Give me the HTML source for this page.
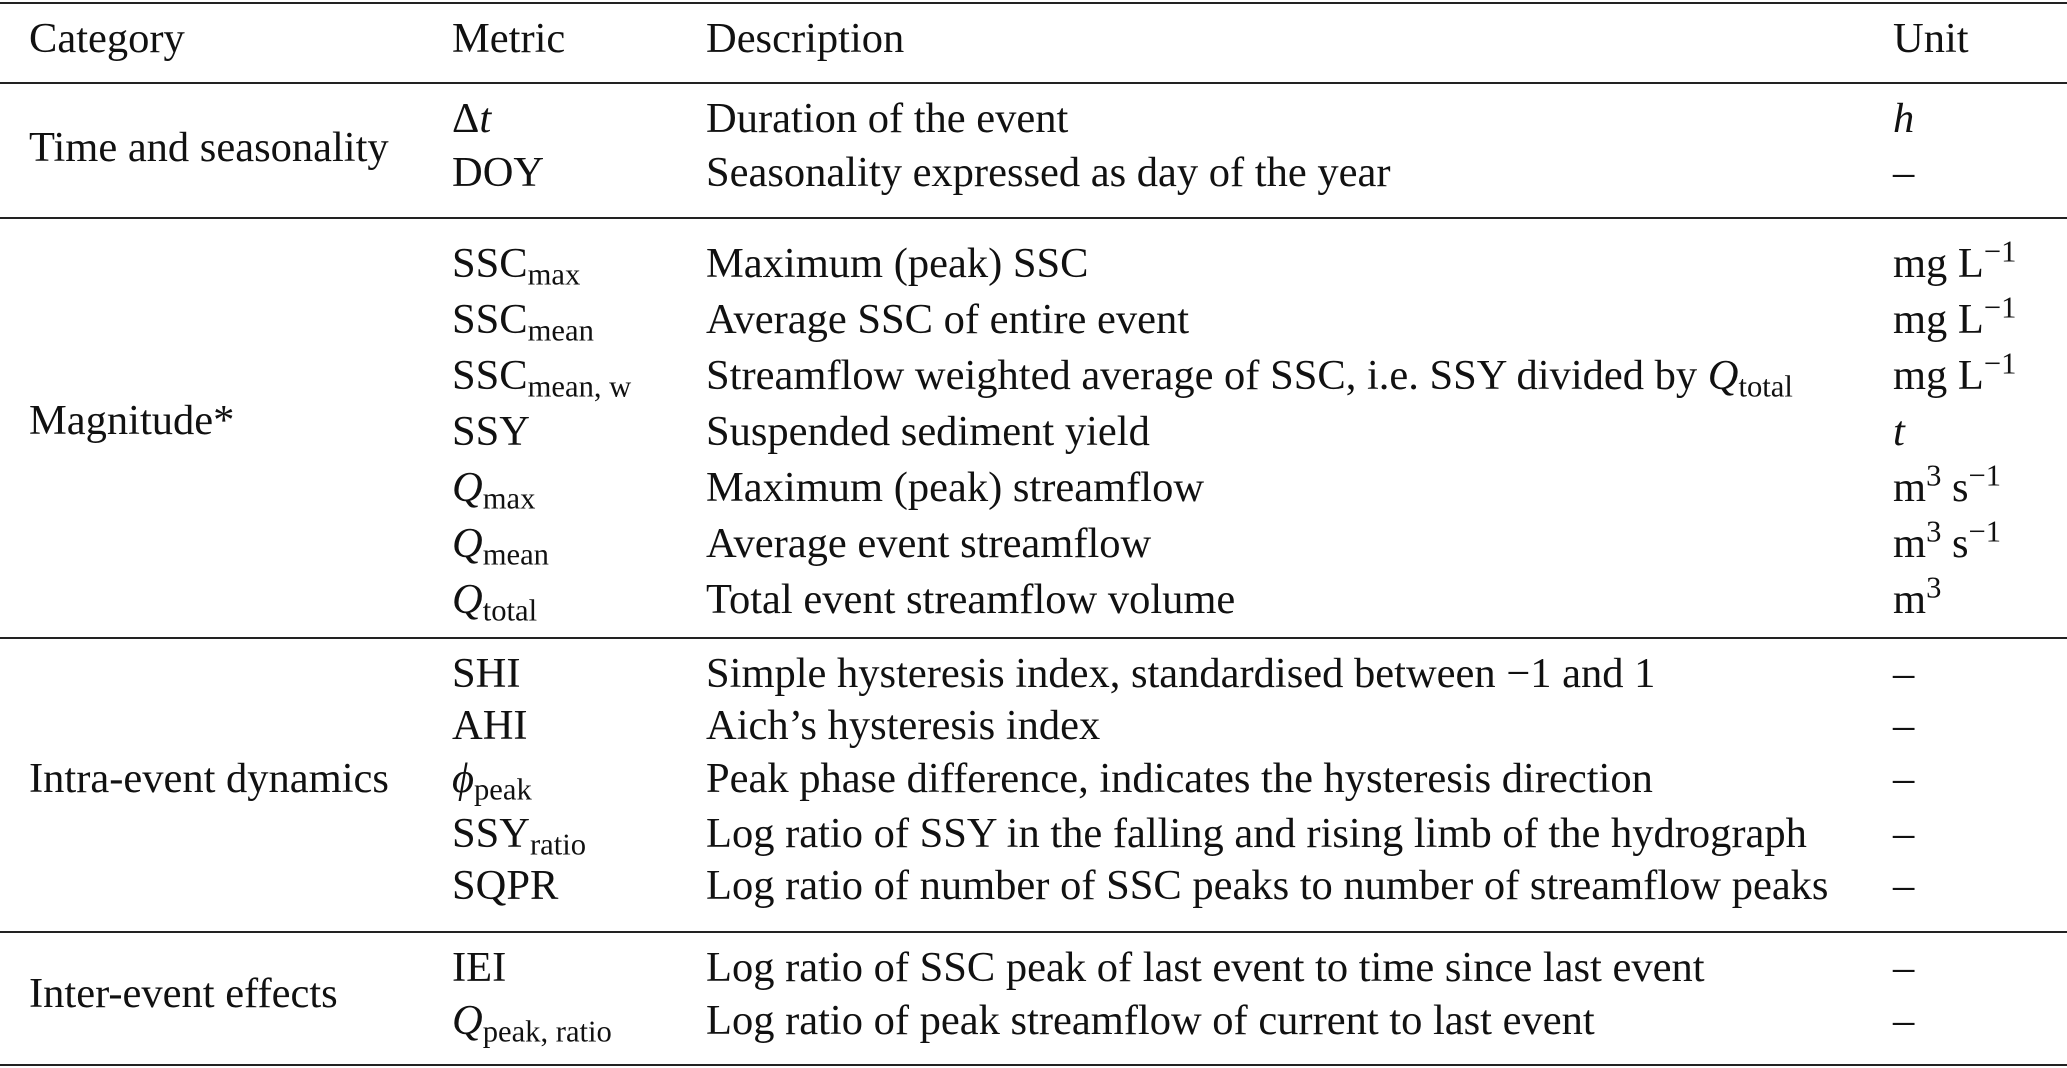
<!DOCTYPE html>
<html><head><meta charset="utf-8"><style>
body{margin:0;background:#fff;width:2067px;height:1068px;position:relative;overflow:hidden;font-family:"Liberation Serif",serif;color:#111;}
.r{position:absolute;left:0;width:2067px;height:2px;background:#222;}
.t{position:absolute;font-size:42.5px;line-height:50px;white-space:nowrap;}
i{font-style:italic;}
sub{font-size:0.72em;vertical-align:-0.25em;line-height:0;}
sup{font-size:0.72em;vertical-align:0.5em;line-height:0;}
</style></head><body>
<div class="r" style="top:2px"></div>
<div class="r" style="top:82px"></div>
<div class="r" style="top:217px"></div>
<div class="r" style="top:637px"></div>
<div class="r" style="top:931px"></div>
<div class="r" style="top:1064px"></div>

<div class="t" style="left:29px;top:14px">Category</div>
<div class="t" style="left:452px;top:14px">Metric</div>
<div class="t" style="left:706px;top:14px">Description</div>
<div class="t" style="left:1893px;top:14px">Unit</div>

<div class="t" style="left:29px;top:123px">Time and seasonality</div>
<div class="t" style="left:452px;top:94px">Δ<i>t</i></div>
<div class="t" style="left:706px;top:94px">Duration of the event</div>
<div class="t" style="left:1893px;top:94px"><i>h</i></div>
<div class="t" style="left:452px;top:148px">DOY</div>
<div class="t" style="left:706px;top:148px">Seasonality expressed as day of the year</div>
<div class="t" style="left:1893px;top:148px">–</div>

<div class="t" style="left:29px;top:396px">Magnitude*</div>
<div class="t" style="left:452px;top:239px">SSC<sub>max</sub></div>
<div class="t" style="left:706px;top:239px">Maximum (peak) SSC</div>
<div class="t" style="left:1893px;top:239px">mg L<sup>−1</sup></div>
<div class="t" style="left:452px;top:295px">SSC<sub>mean</sub></div>
<div class="t" style="left:706px;top:295px">Average SSC of entire event</div>
<div class="t" style="left:1893px;top:295px">mg L<sup>−1</sup></div>
<div class="t" style="left:452px;top:351px">SSC<sub>mean, w</sub></div>
<div class="t" style="left:706px;top:351px">Streamflow weighted average of SSC, i.e. SSY divided by <i>Q</i><sub>total</sub></div>
<div class="t" style="left:1893px;top:351px">mg L<sup>−1</sup></div>
<div class="t" style="left:452px;top:407px">SSY</div>
<div class="t" style="left:706px;top:407px">Suspended sediment yield</div>
<div class="t" style="left:1893px;top:407px"><i>t</i></div>
<div class="t" style="left:452px;top:463px"><i>Q</i><sub>max</sub></div>
<div class="t" style="left:706px;top:463px">Maximum (peak) streamflow</div>
<div class="t" style="left:1893px;top:463px">m<sup>3</sup> s<sup>−1</sup></div>
<div class="t" style="left:452px;top:519px"><i>Q</i><sub>mean</sub></div>
<div class="t" style="left:706px;top:519px">Average event streamflow</div>
<div class="t" style="left:1893px;top:519px">m<sup>3</sup> s<sup>−1</sup></div>
<div class="t" style="left:452px;top:575px"><i>Q</i><sub>total</sub></div>
<div class="t" style="left:706px;top:575px">Total event streamflow volume</div>
<div class="t" style="left:1893px;top:575px">m<sup>3</sup></div>

<div class="t" style="left:29px;top:754px">Intra-event dynamics</div>
<div class="t" style="left:452px;top:649px">SHI</div>
<div class="t" style="left:706px;top:649px">Simple hysteresis index, standardised between −1 and 1</div>
<div class="t" style="left:1893px;top:649px">–</div>
<div class="t" style="left:452px;top:701px">AHI</div>
<div class="t" style="left:706px;top:701px">Aich’s hysteresis index</div>
<div class="t" style="left:1893px;top:701px">–</div>
<div class="t" style="left:452px;top:754px"><i>ϕ</i><sub>peak</sub></div>
<div class="t" style="left:706px;top:754px">Peak phase difference, indicates the hysteresis direction</div>
<div class="t" style="left:1893px;top:754px">–</div>
<div class="t" style="left:452px;top:809px">SSY<sub>ratio</sub></div>
<div class="t" style="left:706px;top:809px">Log ratio of SSY in the falling and rising limb of the hydrograph</div>
<div class="t" style="left:1893px;top:809px">–</div>
<div class="t" style="left:452px;top:861px">SQPR</div>
<div class="t" style="left:706px;top:861px">Log ratio of number of SSC peaks to number of streamflow peaks</div>
<div class="t" style="left:1893px;top:861px">–</div>

<div class="t" style="left:29px;top:969px">Inter-event effects</div>
<div class="t" style="left:452px;top:943px">IEI</div>
<div class="t" style="left:706px;top:943px">Log ratio of SSC peak of last event to time since last event</div>
<div class="t" style="left:1893px;top:943px">–</div>
<div class="t" style="left:452px;top:996px"><i>Q</i><sub>peak, ratio</sub></div>
<div class="t" style="left:706px;top:996px">Log ratio of peak streamflow of current to last event</div>
<div class="t" style="left:1893px;top:996px">–</div>
</body></html>
